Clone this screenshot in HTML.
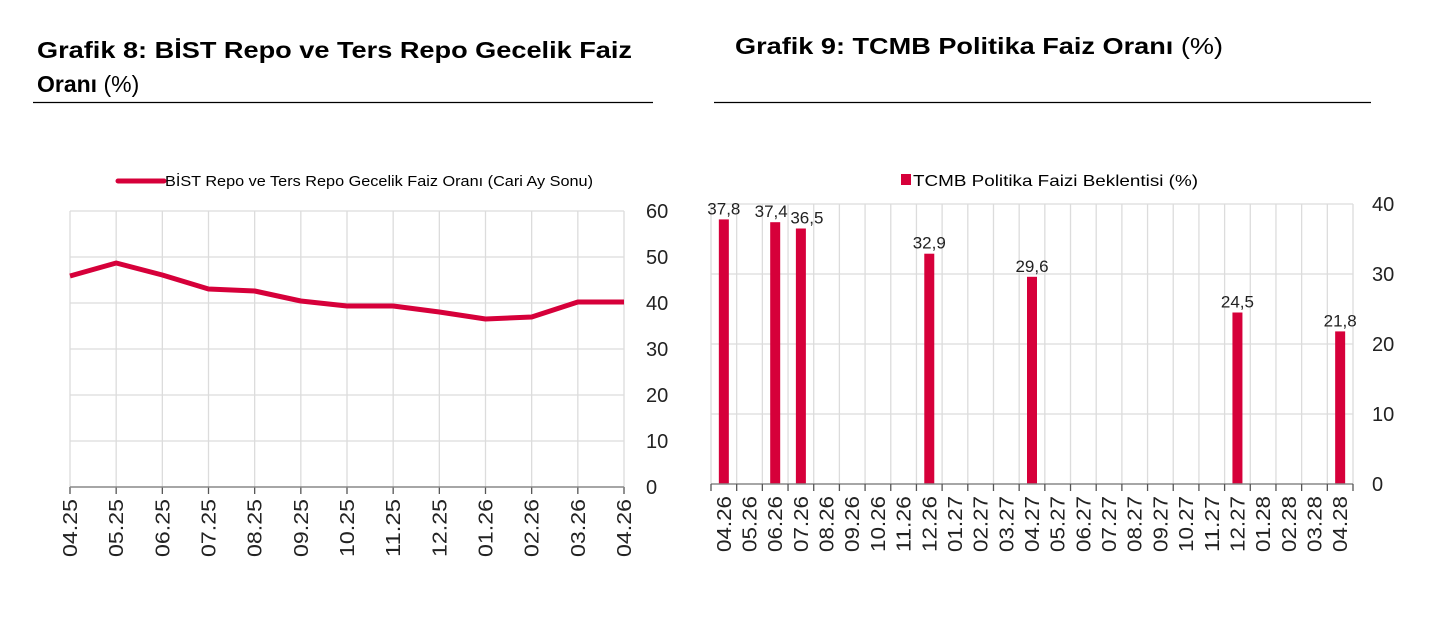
<!DOCTYPE html>
<html><head><meta charset="utf-8"><style>
html,body{margin:0;padding:0;background:#fff;}
svg{display:block;font-family:"Liberation Sans",sans-serif;}
</style></head><body>
<svg width="1434" height="624" viewBox="0 0 1434 624" xmlns="http://www.w3.org/2000/svg">
<text x="37" y="58" font-size="23" font-weight="bold" textLength="595" lengthAdjust="spacingAndGlyphs">Grafik 8:  BİST Repo ve Ters Repo Gecelik Faiz</text>
<text x="37" y="92" font-size="23"><tspan font-weight="bold">Oranı</tspan> (%)</text>
<line x1="33" y1="102.5" x2="653" y2="102.5" stroke="#000" stroke-width="1.2"/>
<text x="735" y="54" font-size="23" textLength="488" lengthAdjust="spacingAndGlyphs"><tspan font-weight="bold">Grafik 9: TCMB Politika Faiz Oranı</tspan> (%)</text>
<line x1="714" y1="102.5" x2="1371" y2="102.5" stroke="#000" stroke-width="1.2"/>

<line x1="118" y1="181" x2="164" y2="181" stroke="#d6003a" stroke-width="5" stroke-linecap="round"/>
<text x="165" y="186" font-size="15" textLength="428" lengthAdjust="spacingAndGlyphs">BİST Repo ve Ters Repo Gecelik Faiz Oranı (Cari Ay Sonu)</text>
<g stroke="#dcdcdc" stroke-width="1.3">
<line x1="70" y1="211" x2="624" y2="211"/><line x1="70" y1="257" x2="624" y2="257"/><line x1="70" y1="303" x2="624" y2="303"/><line x1="70" y1="349" x2="624" y2="349"/><line x1="70" y1="395" x2="624" y2="395"/><line x1="70" y1="441" x2="624" y2="441"/>
</g>
<g id="lg"></g>
<line x1="70" y1="487" x2="624" y2="487" stroke="#888" stroke-width="1.5"/>
<polyline fill="none" stroke="#d6003a" stroke-width="5" stroke-linejoin="round" points="70,276 116.2,263 162.3,275 208.5,289 254.7,291 300.8,301 347,306 393.2,306 439.3,312 485.5,319 531.7,317 577.8,302 624,302"/>
<g font-size="20" fill="#222">
<text x="646" y="218">60</text><text x="646" y="264">50</text><text x="646" y="310">40</text><text x="646" y="356">30</text><text x="646" y="402">20</text><text x="646" y="448">10</text><text x="646" y="494">0</text>
</g>
<g id="llab" font-size="20" fill="#222" text-anchor="end"></g>

<rect x="901" y="174" width="10" height="11" fill="#d6003a"/>
<text x="913" y="186" font-size="16" textLength="285" lengthAdjust="spacingAndGlyphs">TCMB Politika Faizi Beklentisi (%)</text>
<g stroke="#dcdcdc" stroke-width="1.3">
<line x1="711" y1="204" x2="1353" y2="204"/><line x1="711" y1="274" x2="1353" y2="274"/><line x1="711" y1="344" x2="1353" y2="344"/><line x1="711" y1="414" x2="1353" y2="414"/>
</g>
<g id="vg"></g>
<g font-size="20" fill="#222">
<text x="1372" y="211">40</text><text x="1372" y="281">30</text><text x="1372" y="351">20</text><text x="1372" y="421">10</text><text x="1372" y="491">0</text>
</g>
<g id="bars"></g>
<g id="rlab" font-size="20" fill="#222" text-anchor="end"></g>
<line x1="711" y1="484" x2="1353" y2="484" stroke="#888" stroke-width="1.5"/>
<g id="ticks" stroke="#555" stroke-width="1.3"></g>
<script>
(function(){
var ns="http://www.w3.org/2000/svg";
function el(p,t,a,txt){var e=document.createElementNS(ns,t);for(var k in a)e.setAttribute(k,a[k]);if(txt)e.textContent=txt;p.appendChild(e);return e;}
var ll=["04.25","05.25","06.25","07.25","08.25","09.25","10.25","11.25","12.25","01.26","02.26","03.26","04.26"];
var lg=document.getElementById("lg"),llab=document.getElementById("llab");
for(var i=0;i<13;i++){var x=70+i*554/12;el(lg,"line",{x1:x,y1:211,x2:x,y2:487,stroke:"#dcdcdc","stroke-width":1.3});el(lg,"line",{x1:x,y1:487,x2:x,y2:494,stroke:"#555","stroke-width":1.3});
el(llab,"text",{transform:"translate("+(x+7)+",499) rotate(-90)",textLength:58,lengthAdjust:"spacingAndGlyphs"},ll[i]);}
var labs=["04.26","05.26","06.26","07.26","08.26","09.26","10.26","11.26","12.26","01.27","02.27","03.27","04.27","05.27","06.27","07.27","08.27","09.27","10.27","11.27","12.27","01.28","02.28","03.28","04.28"];
var x0=711,w=642/25;
var vg=document.getElementById("vg"),tk=document.getElementById("ticks"),rl=document.getElementById("rlab"),bs=document.getElementById("bars");
for(var i=0;i<=25;i++){var x=x0+i*w;el(vg,"line",{x1:x,y1:204,x2:x,y2:484,stroke:"#dcdcdc","stroke-width":1.3});el(tk,"line",{x1:x,y1:484,x2:x,y2:491});}
for(var i=0;i<25;i++){var c=x0+(i+0.5)*w;el(rl,"text",{transform:"translate("+(c+7)+",496) rotate(-90)",textLength:56,lengthAdjust:"spacingAndGlyphs"},labs[i]);}
var d=[[0,37.8],[2,37.4],[3,36.5],[8,32.9],[12,29.6],[20,24.5],[24,21.8]];
d.forEach(function(p){var c=x0+(p[0]+0.5)*w,y=484-p[1]*7;el(bs,"rect",{x:c-5,y:y,width:10,height:484-y,fill:"#d6003a"});
el(bs,"text",{x:c+(p[0]==2?-4:p[0]==3?6:0),y:y-5,"font-size":17,"text-anchor":"middle",fill:"#222"},String(p[1]).replace(".",","));});
})();
</script>
</svg>
</body></html>
